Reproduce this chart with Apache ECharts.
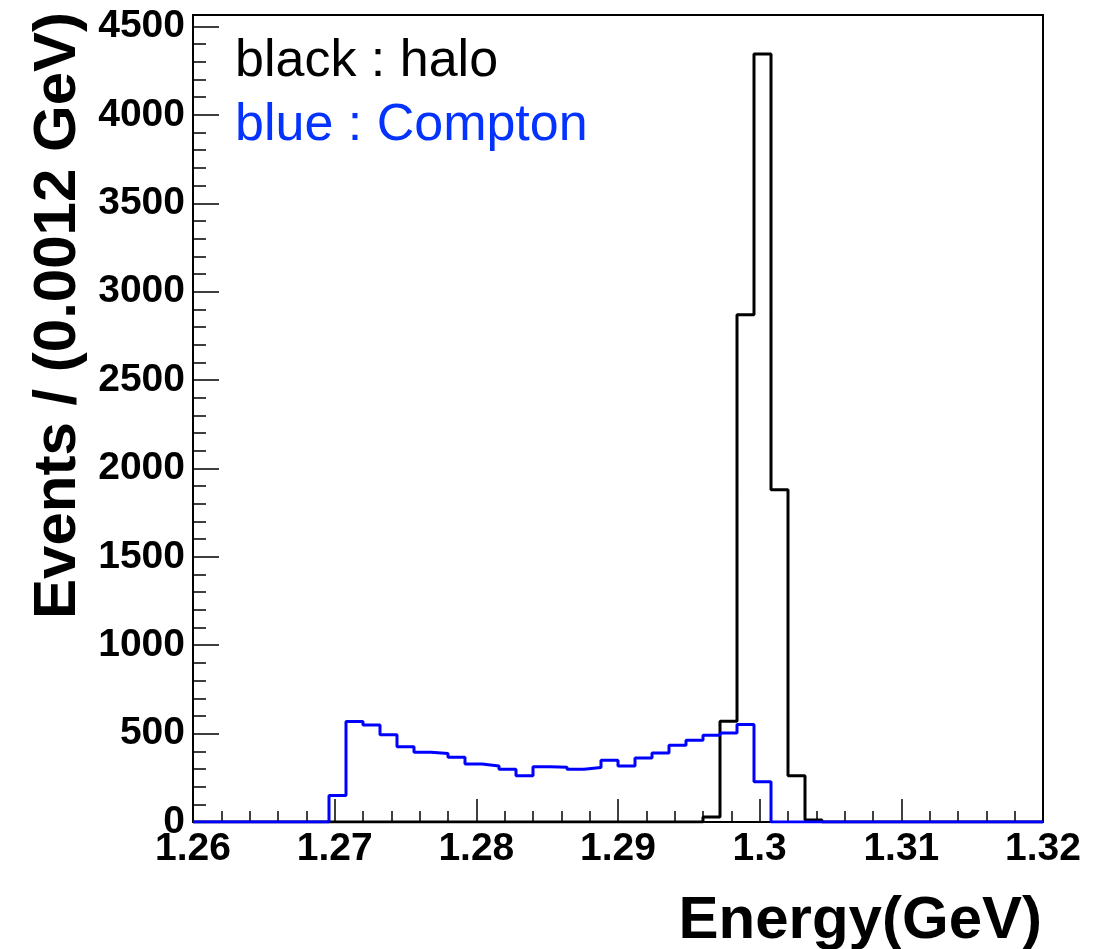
<!DOCTYPE html>
<html>
<head>
<meta charset="utf-8">
<script src="https://cdn.jsdelivr.net/npm/echarts@6/dist/echarts.min.js"></script>
<style>
  html, body { margin: 0; padding: 0; background: #ffffff; }
  #chart { width: 1110px; height: 949px; }
</style>
</head>
<body>
<div id="chart"></div>
<script>
// Histogram binning: 50 bins of 0.0012 GeV from 1.26 to 1.32 GeV
const xMin = 1.26;
const xMax = 1.32;
const binWidth = 0.0012;
const yMax = 4565;

// Tick labels
const xTickLabels = ['1.26', '1.27', '1.28', '1.29', '1.3', '1.31', '1.32'];
const yTickLabels = ['0', '500', '1000', '1500', '2000', '2500', '3000', '3500', '4000', '4500'];

// Events per bin, halo sample (black)
const haloCounts = [
  0, 0, 0, 0, 0, 0, 0, 0, 0, 0,
  0, 0, 0, 0, 0, 0, 0, 0, 0, 0,
  0, 0, 0, 0, 0, 0, 0, 0, 0, 0,
  28, 570, 2870, 4345, 1880, 262, 12, 0, 0, 0,
  0, 0, 0, 0, 0, 0, 0, 0, 0, 0
];

// Events per bin, Compton sample (blue)
const comptonCounts = [
  0, 0, 0, 0, 0, 0, 0, 0, 150, 568,
  549, 494, 426, 394, 387, 366, 328, 317, 298, 262,
  312, 310, 298, 308, 349, 317, 362, 391, 434, 462,
  491, 504, 551, 228, 0, 0, 0, 0, 0, 0,
  0, 0, 0, 0, 0, 0, 0, 0, 0, 0
];

const FONT = "'Liberation Sans', Helvetica, Arial, sans-serif";

// Turn bin contents into [lowEdge, count] points plus a closing point at the upper edge
function histogramPoints(counts) {
  const pts = counts.map((c, i) => [+(xMin + i * binWidth).toFixed(4), c]);
  pts.push([xMax, counts[counts.length - 1]]);
  return pts;
}

function labelFor(list) {
  return function (v) {
    for (const s of list) {
      if (Math.abs(parseFloat(s) - v) < 1e-7) return s;
    }
    return '';
  };
}

const chart = echarts.init(document.getElementById('chart'), null, { renderer: 'canvas' });

chart.setOption({
  animation: false,
  backgroundColor: '#ffffff',
  grid: {
    left: 193, right: 67, top: 15, bottom: 127,
    show: true, borderColor: '#000000', borderWidth: 2, backgroundColor: 'transparent'
  },
  xAxis: {
    type: 'value',
    min: xMin, max: xMax, interval: 0.01,
    axisLine: { show: true, onZero: false, lineStyle: { color: '#000000', width: 2 } },
    axisTick: { show: true, inside: true, length: 23, lineStyle: { color: '#000000', width: 1.5 } },
    minorTick: { show: true, splitNumber: 5, length: 11, lineStyle: { color: '#000000', width: 1.5 } },
    splitLine: { show: false },
    minorSplitLine: { show: false },
    axisLabel: {
      margin: 8, color: '#000000', fontFamily: FONT, fontWeight: 'bold', fontSize: 39,
      formatter: labelFor(xTickLabels)
    }
  },
  yAxis: [
    {
      type: 'value', position: 'left',
      min: 0, max: yMax, interval: 500,
      axisLine: { show: true, onZero: false, lineStyle: { color: '#000000', width: 2 } },
      axisTick: { show: true, inside: true, length: 26, lineStyle: { color: '#000000', width: 1.5 } },
      splitLine: { show: false },
      axisLabel: {
        margin: 8, color: '#000000', fontFamily: FONT, fontWeight: 'bold', fontSize: 39,
        formatter: labelFor(yTickLabels)
      }
    },
    {
      type: 'value', position: 'left', offset: 0,
      min: 0, max: yMax, interval: 100,
      axisLine: { show: false },
      axisTick: { show: true, inside: true, length: 13, lineStyle: { color: '#000000', width: 1.5 } },
      splitLine: { show: false },
      axisLabel: { show: false }
    }
  ],
  series: [
    {
      name: 'halo', type: 'line', step: 'end',
      xAxisIndex: 0, yAxisIndex: 0,
      data: histogramPoints(haloCounts),
      symbol: 'none', showSymbol: false,
      lineStyle: { color: '#000000', width: 3 },
      z: 3
    },
    {
      name: 'Compton', type: 'line', step: 'end',
      xAxisIndex: 0, yAxisIndex: 0,
      data: histogramPoints(comptonCounts),
      symbol: 'none', showSymbol: false,
      lineStyle: { color: '#0000ff', width: 3 },
      z: 4
    }
  ],
  graphic: [
    {
      type: 'text', x: 235, y: 62,
      style: { text: 'black : halo', fill: '#000000', font: "normal 52px " + FONT, textAlign: 'left', textVerticalAlign: 'middle' }
    },
    {
      type: 'text', x: 235, y: 126,
      style: { text: 'blue : Compton', fill: '#0433ff', font: "normal 52px " + FONT, textAlign: 'left', textVerticalAlign: 'middle' }
    },
    {
      type: 'text', x: 1042, y: 921,
      style: { text: 'Energy(GeV)', fill: '#000000', font: "bold 60px " + FONT, textAlign: 'right', textVerticalAlign: 'middle' }
    },
    {
      type: 'text', x: 58, y: 12, rotation: Math.PI / 2,
      style: { text: 'Events / (0.0012 GeV)', fill: '#000000', font: "bold 60px " + FONT, textAlign: 'right', textVerticalAlign: 'middle' }
    }
  ]
});
</script>
</body>
</html>
